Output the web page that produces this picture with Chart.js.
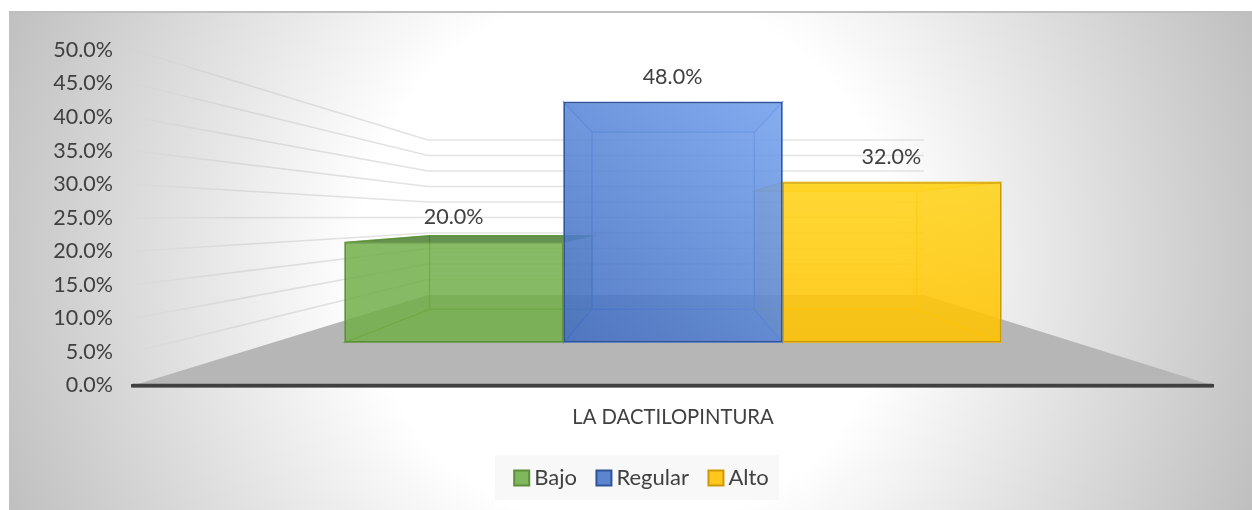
<!DOCTYPE html>
<html><head><meta charset="utf-8">
<style>html,body{margin:0;padding:0;background:#fff;overflow:hidden}canvas{display:block}</style>
<script src="https://cdn.jsdelivr.net/npm/chart.js@4"></script>
</head><body><canvas id="c" width="1252" height="510"></canvas>
<script>
const categories = ['LA DACTILOPINTURA'];
const bajo = [20.0];
const regular = [48.0];
const alto = [32.0];
const FONT = 'Lato, Carlito, sans-serif';
const TXT = '#404040';

const cx = 673.5, kx = 0.742, ky = 0.7375, floorDrop = 33;
const backX = x => cx + kx * (x - cx);
const backY = (y, base) => base - floorDrop - ky * (base - y);

function poly(ctx, pts, fill, stroke, lw) {
  ctx.beginPath();
  pts.forEach((p, i) => i ? ctx.lineTo(p[0], p[1]) : ctx.moveTo(p[0], p[1]));
  ctx.closePath();
  if (fill) { ctx.fillStyle = fill; ctx.fill(); }
  if (stroke) { ctx.strokeStyle = stroke; ctx.lineWidth = lw || 1; ctx.stroke(); }
}

const faceOrder = [0, 2, 1];

const stage = {
  id: 'stage',
  afterLayout(chart) {
    chart.legend.left += 38;
    chart.legend.right += 38;
    chart.legend.top -= 3;
    chart.legend.bottom -= 3;
  },
  beforeDraw(chart) {
    const { ctx, chartArea: a, scales } = chart;
    const yS = scales.y;
    ctx.save();
    const bx = 9, by = 12, bw = chart.width - 9, bh = chart.height - 12;
    const g = ctx.createRadialGradient(628, 260, 0, 628, 260, 670);
    g.addColorStop(0, '#ffffff'); g.addColorStop(0.4, '#ffffff'); g.addColorStop(1, '#bfbfbf');
    ctx.fillStyle = g; ctx.fillRect(bx, by, bw, bh);
    ctx.fillStyle = '#bfbfbf'; ctx.fillRect(bx, by - 1, bw, 2);

    const wallL = a.left + 295, wallR = a.right - 289;
    const wallBase = a.bottom - 90.5, wallK = 3.1;
    const valToBack = v => wallBase - wallK * v;
    poly(ctx, [[a.left, a.bottom], [wallL, wallBase], [wallR, wallBase], [a.right, a.bottom]], '#b6b6b6');

    yS.ticks.forEach(t => {
      if (t.value === 0) return;
      const y0 = yS.getPixelForValue(t.value), y1 = valToBack(t.value);
      const lg = ctx.createLinearGradient(a.left, 0, wallL, 0);
      lg.addColorStop(0, 'rgba(190,190,190,0.03)');
      lg.addColorStop(0.35, 'rgba(190,190,190,0.4)');
      lg.addColorStop(1, 'rgba(215,215,215,0.7)');
      ctx.beginPath(); ctx.moveTo(a.left, y0); ctx.lineTo(wallL, y1);
      ctx.strokeStyle = lg; ctx.lineWidth = 1.6; ctx.stroke();
      ctx.beginPath(); ctx.moveTo(wallL, y1); ctx.lineTo(wallR, y1);
      ctx.strokeStyle = 'rgba(215,215,215,0.7)'; ctx.lineWidth = 1.6; ctx.stroke();
    });

    ctx.beginPath(); ctx.moveTo(a.left, a.bottom); ctx.lineTo(a.right - 1, a.bottom);
    ctx.strokeStyle = TXT; ctx.lineWidth = 3.5; ctx.lineCap = 'round'; ctx.stroke();

    ctx.fillStyle = '#f8f8f8'; ctx.fillRect(495, 455, 284, 45);
    ctx.restore();
  },
  beforeDatasetsDraw(chart) {
    const { ctx } = chart;
    ctx.save();
    faceOrder.forEach(idx => {
      const ds = chart.data.datasets[idx];
      const bar = chart.getDatasetMeta(idx).data[0];
      const p = bar.getProps(['x', 'y', 'base', 'width'], true);
      const x0 = p.x - p.width / 2, x1 = p.x + p.width / 2, yt = p.y, yb = p.base;
      const X0 = backX(x0), X1 = backX(x1), Yt = backY(yt, yb), Yb = backY(yb, yb);
      const e = ds.edgeSoft, f = ds.faceFill;
      poly(ctx, [[X0, Yt], [X1, Yt], [X1, Yb], [X0, Yb]], f, e, 1.2);
      poly(ctx, [[x0, yt], [X0, Yt], [X0, Yb], [x0, yb]], f, e, 1.2);
      poly(ctx, [[x1, yt], [X1, Yt], [X1, Yb], [x1, yb]], f, e, 1.2);
      poly(ctx, [[x0, yb], [X0, Yb], [X1, Yb], [x1, yb]], f, e, 1.2);
      poly(ctx, [[x0, yt], [X0, Yt], [X1, Yt], [x1, yt]], ds.topFill, e, 1.2);
    });
    ctx.restore();
  },
  afterDraw(chart) {
    const { ctx } = chart;
    ctx.save();
    ctx.font = '21.5px ' + FONT; ctx.fillStyle = TXT; ctx.textAlign = 'center'; ctx.textBaseline = 'middle';
    chart.data.datasets.forEach((ds, i) => {
      const b = chart.getDatasetMeta(i).data[0];
      ctx.fillText(ds.data[0].toFixed(1) + '%', b.x - 0.5, b.y - 25);
    });
    ctx.restore();
  }
};

function vGrad(top, bottom) {
  return c => {
    const a = c.chart.chartArea;
    if (!a) return bottom;
    const g = c.chart.ctx.createLinearGradient(0, a.top + 50, 0, a.bottom - 43);
    g.addColorStop(0, top); g.addColorStop(1, bottom);
    return g;
  };
}
function dGrad(from, to) {
  return c => {
    const a = c.chart.chartArea;
    if (!a) return from;
    const g = c.chart.ctx.createLinearGradient(a.left + 432, a.bottom - 43, a.left + 650, a.top + 52);
    g.addColorStop(0, from); g.addColorStop(1, to);
    return g;
  };
}

new Chart(document.getElementById('c'), {
  type: 'bar',
  plugins: [stage],
  data: {
    labels: categories,
    datasets: [
      { label: 'Bajo', data: bajo, yAxisID: 'yBars', borderSkipped: false,
        backgroundColor: 'rgba(112,173,71,0.82)', borderColor: '#5b8f3a', borderWidth: 1.5,
        faceFill: 'rgba(112,173,71,0.14)', topFill: 'rgba(70,120,40,0.8)', edgeSoft: 'rgba(90,150,55,0.6)' },
      { label: 'Regular', data: regular, yAxisID: 'yBars', borderSkipped: false,
        backgroundColor: dGrad('rgba(64,108,190,0.86)', 'rgba(118,163,238,0.86)'), borderColor: '#2f5597', borderWidth: 1.5,
        faceFill: 'rgba(95,145,230,0.18)', topFill: 'rgba(120,165,240,0.4)', edgeSoft: 'rgba(80,125,210,0.6)' },
      { label: 'Alto', data: alto, yAxisID: 'yBars', borderSkipped: false,
        backgroundColor: vGrad('rgba(255,220,40,0.86)', 'rgba(255,194,0,0.86)'), borderColor: '#cc9a06', borderWidth: 1.5,
        faceFill: 'rgba(255,200,20,0.18)', topFill: 'rgba(255,205,30,0.5)', edgeSoft: 'rgba(240,190,10,0.7)' }
    ]
  },
  options: {
    responsive: false,
    animation: false,
    layout: { padding: { top: 50, right: 39, left: 0, bottom: 8 } },
    datasets: { bar: { barPercentage: 1, categoryPercentage: 0.608 } },
    scales: {
      x: {
        grid: { display: false, drawTicks: false },
        border: { display: true, color: TXT, width: 3.5 },
        ticks: { color: TXT, font: { family: FONT, size: 20.3 }, padding: 20, maxRotation: 0 },
        afterFit: s => { s.height = 59; }
      },
      y: {
        min: 0, max: 50,
        grid: { display: false, drawTicks: false },
        border: { display: false },
        ticks: { stepSize: 5, color: TXT, font: { family: FONT, size: 21.5 }, padding: 20,
                 callback: v => v.toFixed(1) + '%' },
        afterFit: s => { s.width = 133; }
      },
      yBars: { display: false, min: -8.6, max: 58.4 }
    },
    plugins: {
      tooltip: { enabled: false },
      legend: {
        position: 'bottom',
        labels: {
          color: TXT, font: { family: FONT, size: 22 },
          usePointStyle: true, pointStyle: 'rect', boxWidth: 3, boxHeight: 15, padding: 25.5,
          generateLabels: chart => chart.data.datasets.map((d, i) => ({
            text: d.label, datasetIndex: i,
            fillStyle: ['#80b65c', '#5b85cf', '#ffc61e'][i],
            strokeStyle: d.borderColor, lineWidth: 2, pointStyle: 'rect', fontColor: TXT
          }))
        }
      }
    }
  }
});
</script></body></html>
